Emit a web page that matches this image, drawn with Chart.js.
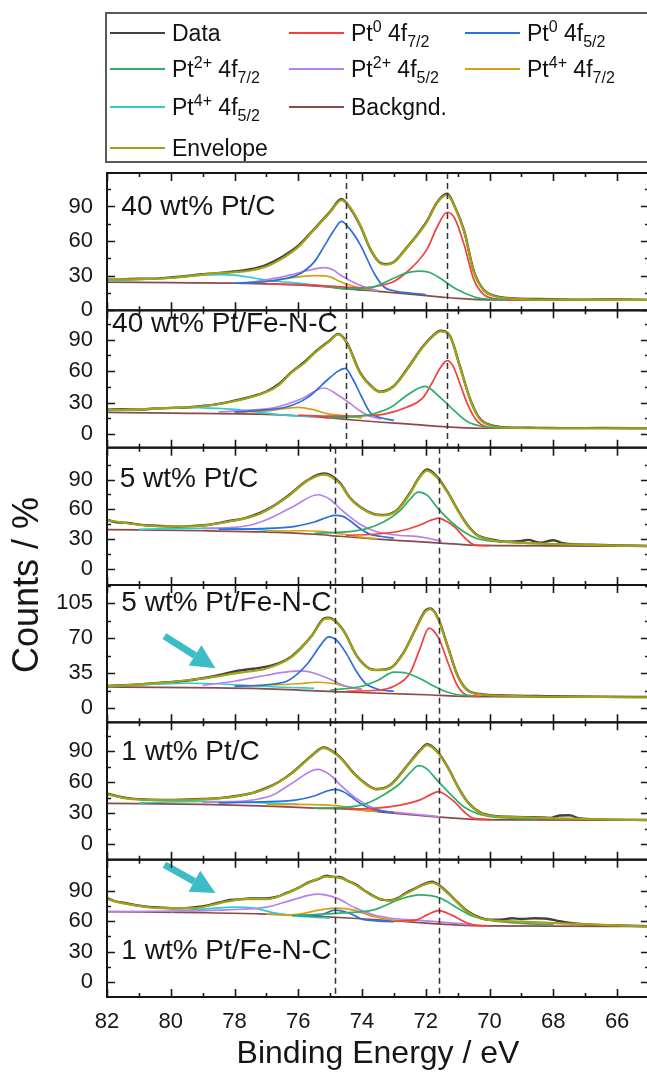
<!DOCTYPE html>
<html>
<head>
<meta charset="utf-8">
<title>Pt 4f XPS</title>
<script src="https://cdn.jsdelivr.net/npm/chart.js"></script>
<style>
  body { margin: 0; overflow: hidden; background: #fff; font-family: Arial, "Liberation Sans", sans-serif; }
  #wrap { position: relative; width: 647px; height: 1072px; overflow: hidden; }
  #legend { position: absolute; left: 105px; top: 12px; width: 580px; height: 151px; border: 2px solid #5a5a5a; box-sizing: border-box; }
  .item { position: absolute; height: 24px; display: flex; align-items: center; font-size: 23px; color: #111; white-space: nowrap; }
  .item i { display: inline-block; width: 55px; height: 2px; margin-right: 7px; }
  .item sup, .item sub { font-size: 16px; line-height: 0; }
  canvas { position: absolute; left: 0; top: 0; }
</style>
</head>
<body>
<div id="wrap">
  <canvas id="xps" width="652" height="1072"></canvas>
  <div id="legend"></div>
</div>

<script>
// binding energy axis
const xTicks = [82, 80, 78, 76, 74, 72, 70, 68, 66];

// one entry per panel, top to bottom
const panelNames = ['40 wt% Pt/C', '40 wt% Pt/Fe-N-C', '5 wt% Pt/C', '5 wt% Pt/Fe-N-C', '1 wt% Pt/C', '1 wt% Pt/Fe-N-C'];
const yTicks = [[0, 30, 60, 90], [0, 30, 60, 90], [0, 30, 60, 90], [0, 35, 70, 105], [0, 30, 60, 90], [0, 30, 60, 90]];
const yMin = [0, -13, -16, -14, -15, -15];
const yMax = [119, 118, 122, 123, 118, 121];

// series, legend order
const seriesNames = ['Data', 'Pt0 4f7/2', 'Pt0 4f5/2', 'Pt2+ 4f7/2', 'Pt2+ 4f5/2', 'Pt4+ 4f7/2', 'Pt4+ 4f5/2', 'Backgnd.', 'Envelope'];
const seriesHtml = ['Data', 'Pt<sup>0</sup> 4f<sub>7/2</sub>', 'Pt<sup>0</sup> 4f<sub>5/2</sub>', 'Pt<sup>2+</sup> 4f<sub>7/2</sub>',
  'Pt<sup>2+</sup> 4f<sub>5/2</sub>', 'Pt<sup>4+</sup> 4f<sub>7/2</sub>', 'Pt<sup>4+</sup> 4f<sub>5/2</sub>', 'Backgnd.', 'Envelope'];
const seriesColors = ['#404040', '#f2403f', '#2b6fd8', '#2fae6a', '#b880ea', '#d6a014', '#2dcdd3', '#8c4b4b', '#a2a215'];

// points are [binding energy, counts %]
// --- 40 wt% Pt/C
const p1_data = [[82,26.5],[81.5,26.8],[81,27.5],[80.5,27.4],[80,28.6],[79.5,29.8],[79,31.3],[78.5,32.2],[78,33.6],[77.5,35.6],[77,39.5],[76.5,46.5],[76,56],[75.5,70.5],[75,85.5],[74.65,96.5],[74.37,88.5],[74.06,73.5],[73.75,53.5],[73.45,41.5],[73.25,40],[73,42],[72.6,54.5],[72.3,64.5],[71.96,77.5],[71.65,93.5],[71.33,101],[71.1,90.5],[70.8,69],[70.5,34.5],[70.2,18.3],[69.8,12.4],[69.2,10.3],[68.5,9.8],[68,9.6],[67,9.3],[66,9.4],[65,9.1]];
const p1_pt0a = [[77,23],[76,22.3],[75,21],[74,19.5],[73.4,21.5],[73,25],[72.6,33],[72.3,41],[71.96,53],[71.65,72],[71.33,85],[71.1,80],[70.8,57],[70.5,27],[70.2,14],[69.8,10],[69.3,9.3],[68.5,9.1]];
const p1_pt0b = [[78,23.5],[77.5,24],[77,25],[76.5,27],[76,31],[75.5,42],[75.2,55],[74.9,68.5],[74.65,77],[74.4,71],[74.06,57],[73.6,31],[73.3,20],[73,17],[72.5,15],[72,13.5]];
const p1_pt2a = [[75,20],[74.5,18.8],[74,19],[73.6,20.5],[73.3,24],[73,28],[72.6,32.5],[72.24,34],[71.9,33],[71.56,28],[71.3,23],[71,17.8],[70.7,14],[70.4,11],[70,9.5],[69.5,9.1]];
const p1_pt2b = [[78,23.5],[77.5,24.5],[77,26.5],[76.5,29],[76.2,31],[75.7,34.5],[75.2,37],[74.9,35],[74.7,31],[74.4,26],[74,21],[73.5,17]];
const p1_pt4a = [[78,23.5],[77,25],[76.5,27],[76,29],[75.4,30],[75,29],[74.7,25],[74.4,22],[74,19],[73.5,17]];
const p1_pt4b = [[82,25.5],[81,26.5],[80,28],[79,30.5],[78.45,31],[78,30.5],[77.5,28.5],[77.2,27],[76.6,25],[76,23.5],[75.5,22],[75,20.5]];
const p1_bg = [[82,24.5],[80,24],[78,23.5],[77,23],[76,22],[75,20],[74.5,18.6],[73.5,16.5],[72.5,14],[71.5,11.5],[71,10.3],[70.5,9.5],[70,9.1],[65,9]];
const p1_env = [[82,26.5],[81,27],[80,28],[79.5,29.5],[79,31],[78.5,32.5],[78,33],[77.5,34.5],[77,38],[76.5,45],[76,55],[75.5,70],[75,85],[74.65,95.5],[74.37,89],[74.06,74],[73.75,54],[73.45,41],[73.25,39.5],[73,41.5],[72.6,54],[72.3,64],[71.96,77],[71.65,93],[71.33,100],[71.1,90],[70.8,68.5],[70.5,33.7],[70.2,17.8],[69.8,12],[69.2,10],[68,9.3],[65,9]];

// --- 40 wt% Pt/Fe-N-C
const p2_data = [[82,23.2],[81.5,23.6],[81,23.4],[80.5,24.3],[80,25],[79.5,25.3],[79,26.8],[78.5,28.8],[77.9,32.6],[77.5,35.5],[77,40.6],[76.6,48],[76.2,59.5],[75.8,69],[75.5,77.5],[75,89.5],[74.75,95.5],[74.48,87.5],[74.06,58.5],[73.64,43.8],[73.44,40.5],[73.02,45.3],[72.6,61.5],[72.08,84],[71.75,94.5],[71.55,98.5],[71.24,93.5],[70.93,64.5],[70.6,32.5],[70.3,14.5],[69.9,8],[69.46,6.3],[68.5,5.9],[67.5,5.6],[66.5,5.7],[65,5.5]];
const p2_pt0a = [[76,18],[75,17],[74.06,17.4],[73.3,19],[72.6,25.5],[72.08,35],[71.8,49],[71.55,63],[71.33,70],[71.15,65],[70.93,48],[70.7,29],[70.4,12.6],[70.1,6.8],[69.7,5.6]];
const p2_pt0b = [[78,21],[77.2,22.5],[76.35,26],[75.7,35],[75.1,51.3],[74.75,60],[74.53,62.6],[74.3,53],[74.06,38.4],[73.75,20.6],[73.44,15.8],[73,13]];
const p2_pt2a = [[75,15.5],[74.5,16],[74,17.5],[73.64,19.4],[73.1,25.5],[72.6,36.8],[72.03,45.5],[71.55,35],[71.1,22],[70.7,12],[70.3,7.7],[69.9,6],[69.5,5.6]];
const p2_pt2b = [[78.5,21],[77.4,23],[76.7,25.5],[75.9,33.6],[75.2,43.9],[74.7,36],[74.37,29],[74.06,22],[73.75,17],[73.4,14.5]];
const p2_pt4a = [[78,21],[77,22],[76.5,24],[76,25.5],[75.5,23],[75.1,19.5],[74.6,17.5],[74,15.5]];
const p2_pt4b = [[82,22],[81,23.5],[80,25],[79.5,25.5],[79,25],[78,23.5],[77.2,20.6],[76.2,17.5],[75.5,16.5]];
const p2_bg = [[82,20.6],[80,20],[77.2,19],[75.5,16.5],[74.5,14],[73.5,11.5],[72.5,9.5],[71.33,6.8],[70.5,5.7],[70,5.5],[65,5.5]];
const p2_env = [[82,23],[81,23.5],[80.3,24.5],[79,26.5],[77.9,32],[77,40],[76.6,47],[76.2,59],[75.8,68],[75.5,77],[75,89],[74.75,95],[74.48,87],[74.06,58],[73.64,43.3],[73.44,40],[73.02,45],[72.6,61],[72.08,83.5],[71.75,94],[71.55,98],[71.24,93],[70.93,64],[70.6,32],[70.3,14],[69.9,7.7],[69.46,6],[68,5.5],[65,5.5]];

// --- 5 wt% Pt/C
const p3_data = [[82,49.5],[81.7,47],[81.4,46.5],[80.8,44],[80.3,43.3],[79.8,42.6],[79.3,43.4],[78.8,44.6],[78.25,47.8],[77.7,51],[77.2,56.5],[76.8,63],[76.35,73],[75.7,89.5],[75.2,96],[74.7,87],[74.4,72.5],[74.06,62.5],[73.64,55.5],[73.33,54.5],[72.9,59.5],[72.5,76.5],[72.2,92.5],[71.96,100],[71.65,93],[71.3,76.5],[71,59.5],[70.7,44.5],[70.4,34.5],[69.9,29.5],[69.47,27.5],[69,28.2],[68.8,29.3],[68.4,26.5],[68,29],[67.7,26],[67.4,25],[66.5,24.2],[66,23.8],[65,23.2]];
const p3_pt0a = [[74.5,34],[73.64,35],[72.8,38.3],[72.2,44],[71.85,49],[71.6,51.3],[71.35,48],[71.1,42.3],[70.7,29],[70.45,24],[70,23.5]];
const p3_pt0b = [[78.5,40],[77.2,40.7],[76.1,43],[75.5,47.3],[75.1,52],[74.85,54],[74.6,53],[74.4,49],[74.06,40.7],[73.75,35],[73.44,33],[73,31]];
const p3_pt2a = [[75.5,36],[74.5,37.3],[73.85,40.7],[73.33,47.3],[72.8,59],[72.5,70],[72.24,77.3],[71.95,74],[71.65,62],[71.2,47.3],[70.8,37.3],[70.4,30.7],[69.9,28],[68.9,26],[68,25]];
const p3_pt2b = [[79,41],[78,42],[77.4,45],[76.8,52.3],[76.1,64],[75.4,74.7],[75,70],[74.7,61],[74.4,53],[74.06,45],[73.64,38.5],[73,34.5],[72.1,32],[71.5,28]];
const p3_pt4a = [[77,38],[76,38.5],[75.3,38],[74.7,35.5],[74,32],[73.5,30.5]];
const p3_pt4b = [[81,40],[80.3,40.5],[79,41],[78,40.5],[77.2,39.5],[76.5,37.8]];
const p3_bg = [[82,39.7],[79,38.5],[77.2,37.3],[75.5,35],[74.7,33],[73.5,30],[72.5,28],[71.65,26.3],[71,25],[70.5,24],[69.5,23.5],[65,23]];
const p3_env = [[82,49],[81.4,46.3],[80.3,43],[79.3,43],[78.25,47.3],[77.2,55.7],[76.35,72.3],[75.7,89],[75.2,95],[74.7,86],[74.4,72],[74.06,62],[73.64,55],[73.33,54],[72.9,59],[72.5,75.7],[72.2,92],[71.96,99],[71.65,92],[71.3,76],[71,59],[70.7,44],[70.4,34],[69.9,29],[69.47,27.3],[68.4,25.7],[67.4,24.7],[66,23.5],[65,23]];

// --- 5 wt% Pt/Fe-N-C
const p4_data = [[82,22.3],[81,23.8],[80.3,25.5],[79.5,27.5],[79,30],[78.5,33],[77.9,37.5],[77.4,39.5],[77,41.5],[76.6,45],[76.2,52],[75.6,71.5],[75.2,89.5],[75.05,90.5],[74.6,78.5],[74.15,51.5],[73.8,40.3],[73.5,38.3],[73.1,40.3],[72.7,55.5],[72.3,80.5],[72,98],[71.85,99.5],[71.6,88.5],[71.3,60.5],[71,32.5],[70.7,18.3],[70.3,14.3],[69.5,12.8],[68.5,12.3],[67.5,11.8],[66.5,11.5],[65,11.2]];
const p4_pt0a = [[74.5,17],[73.5,18],[73,22],[72.5,35],[72.2,58],[71.9,80],[71.6,70],[71.3,45],[71,22],[70.7,13],[70.3,12]];
const p4_pt0b = [[78,22],[77,23.5],[76.3,28],[75.7,45],[75.3,63],[75.05,71.3],[74.8,68],[74.5,55],[74.2,38],[73.9,25],[73.5,19],[73,17]];
const p4_pt2a = [[75,18],[74,22],[73.5,28],[73,36],[72.6,35],[72.2,30],[71.8,23],[71.4,17],[71,13.5],[70.5,12.5]];
const p4_pt2b = [[79,23],[78,27],[77,33],[76.3,36.5],[75.9,37.3],[75.5,35],[75,29],[74.5,22],[74,19]];
const p4_pt4a = [[78,22],[77,23],[76,24.5],[75.4,26],[75,25],[74.5,22],[74,18.5]];
const p4_pt4b = [[82,22],[80.5,24],[79.5,25],[78.5,24.5],[77.5,22.5],[76.5,21],[75.5,20]];
const p4_bg = [[82,21.3],[77.2,19.7],[74.6,16.3],[73,14.5],[72,13.5],[71,12],[70,11.5],[65,11]];
const p4_env = [[82,22],[80.3,25.3],[79,29.7],[77.9,35.3],[77,39.7],[76.2,51.3],[75.6,71.3],[75.2,88.7],[75.05,89.7],[74.6,78],[74.15,51.3],[73.8,40],[73.5,38],[73.1,40],[72.7,55],[72.3,80],[72,97],[71.85,99],[71.6,88],[71.3,60],[71,32],[70.7,18],[70.3,14],[69.5,12.5],[65,11]];

// --- 1 wt% Pt/C
const p5_data = [[82,48.8],[81.4,44.8],[80.8,43.2],[80.3,42.9],[79.6,43.1],[79,43.7],[78.4,44.8],[77.9,46.9],[77.4,50],[77,54.5],[76.6,60.5],[76.2,69],[75.6,85.3],[75.2,93.6],[74.7,84.5],[74.27,69],[73.85,57.8],[73.54,53.4],[73.1,57.8],[72.6,75.5],[72.2,90.3],[71.96,96.8],[71.65,90.2],[71.3,74],[71,56],[70.7,41.4],[70.3,30.8],[69.9,27.6],[69.2,26.4],[68.6,26.1],[68.1,25.4],[67.8,27.8],[67.5,28],[67.2,25.2],[66.5,24],[65,23.4]];
const p5_pt0a = [[74.5,34],[73.64,34.6],[72.8,37.9],[72.2,42.7],[71.85,48],[71.6,50.8],[71.35,47],[71.1,41],[70.8,31.4],[70.5,25],[70,24]];
const p5_pt0b = [[78.5,40],[77.2,41],[76.1,42.7],[75.5,46.6],[75.1,51.5],[74.85,53],[74.6,51],[74.37,46.6],[74.06,39.5],[73.75,34.6],[73.44,32.4],[73,30.5]];
const p5_pt2a = [[75.5,35],[74.5,35.6],[73.85,39.5],[73.33,47.6],[72.8,59],[72.5,69],[72.22,76],[71.95,72.5],[71.65,62],[71.2,47.6],[70.8,36],[70.4,29.8],[69.9,26.5],[69.2,25],[68.5,24.5]];
const p5_pt2b = [[79,40.5],[78.3,41],[77.6,42],[76.8,47.6],[76.2,59],[75.4,72.5],[75,67],[74.7,58],[74.27,46.5],[73.85,37.9],[73.44,33],[72.6,29.8],[71.55,26.5]];
const p5_pt4a = [[77,38],[76,38.5],[75.2,38],[74.6,36.5],[74,33],[73.5,31.5]];
const p5_pt4b = [[81,40],[80,41],[79,41.5],[78,41],[77,40],[76,38.5]];
const p5_bg = [[82,39.5],[79,38.5],[77.2,37],[75.5,35],[74.3,33.7],[73,30],[72.3,28],[71.65,26.5],[71,25],[70.5,24],[69.5,23.5],[65,23.3]];
const p5_env = [[82,48.5],[81.4,44.3],[80.3,42.7],[79,43.4],[77.9,46.6],[77,54],[76.2,68.6],[75.6,84.8],[75.2,93],[74.7,84],[74.27,68.6],[73.85,57.3],[73.54,53],[73.1,57.3],[72.6,75],[72.2,89.6],[71.96,96],[71.65,89.6],[71.3,73.5],[71,55.6],[70.7,41],[70.3,30.4],[69.9,27.2],[68.9,26],[67.9,25],[65,23.3]];

// --- 1 wt% Pt/Fe-N-C
const p6_data = [[82,83],[81.7,79.5],[81.4,77.8],[80.9,75],[80.3,73.5],[79.8,72.8],[79.3,73.8],[78.8,76],[78.25,80.5],[77.9,81.5],[77.5,82.5],[77,82.6],[76.7,84],[76.35,88.3],[76,93],[75.7,98.3],[75.4,101.5],[75.1,105],[74.9,104],[74.7,103.8],[74.45,100],[74.2,96.5],[73.9,90],[73.64,85],[73.4,81.5],[73.1,80.8],[72.85,83.5],[72.6,88.5],[72.3,93],[72.08,96.5],[71.8,99.3],[71.55,95],[71.3,88],[71.1,81.8],[70.7,70.2],[70.3,63.6],[70,61.5],[69.6,61.8],[69.3,63],[69,62.2],[68.6,63],[68.2,62.5],[67.8,60],[67.4,58],[66.8,56.5],[66,55.8],[65,55]];
const p6_pt0a = [[73,60],[72.3,61.4],[71.96,66.3],[71.6,70.6],[71.2,66.3],[70.8,59.7],[70.5,56.4],[70,55.5]];
const p6_pt0b = [[76,65.5],[75.3,66.3],[74.85,71],[74.4,68],[74,62],[73.64,60.7],[73,59.5]];
const p6_pt2a = [[76.2,65.5],[74.7,68],[73.64,71.3],[72.8,81.9],[72.2,86.1],[71.55,82.9],[71,73],[70.5,64.7],[69.9,60.7],[69,58],[68,56.5]];
const p6_pt2b = [[82,69.6],[80,70],[78.25,71.3],[77,74],[76.2,81],[75.4,86.8],[74.8,82.9],[74.2,73],[73.64,66.3],[73.1,63],[72.08,60.7],[70.5,56.4]];
const p6_pt4a = [[77,67],[76.2,66.3],[75.3,71.3],[74.8,73],[74.3,71.3],[73.64,64.7],[73.1,61.4],[72.5,60]];
const p6_pt4b = [[80,69.6],[79,72],[77.9,74],[77.4,73],[76.7,68],[75.9,64.7],[75,63]];
const p6_bg = [[82,69.6],[79,68.5],[77.2,67.3],[75.5,65],[74.3,63],[73,60.5],[71.65,57.4],[70.1,55.4],[65,54.8]];
const p6_env = [[82,81.9],[81.4,77.2],[80.3,73],[79.3,73],[78.25,79.5],[77.7,81.9],[77,81.9],[76.35,87.8],[75.7,97.7],[75.1,104.3],[74.7,103],[74.2,96],[73.64,84.5],[73.1,80.5],[72.6,87.8],[72.08,96],[71.8,98.3],[71.55,94.4],[71.1,81.2],[70.7,69.6],[70.3,63],[69.8,60.7],[69,59.7],[67.4,57.4],[65,54.8]];

const panels = [
  [p1_data, p1_pt0a, p1_pt0b, p1_pt2a, p1_pt2b, p1_pt4a, p1_pt4b, p1_bg, p1_env],
  [p2_data, p2_pt0a, p2_pt0b, p2_pt2a, p2_pt2b, p2_pt4a, p2_pt4b, p2_bg, p2_env],
  [p3_data, p3_pt0a, p3_pt0b, p3_pt2a, p3_pt2b, p3_pt4a, p3_pt4b, p3_bg, p3_env],
  [p4_data, p4_pt0a, p4_pt0b, p4_pt2a, p4_pt2b, p4_pt4a, p4_pt4b, p4_bg, p4_env],
  [p5_data, p5_pt0a, p5_pt0b, p5_pt2a, p5_pt2b, p5_pt4a, p5_pt4b, p5_bg, p5_env],
  [p6_data, p6_pt0a, p6_pt0b, p6_pt2a, p6_pt2b, p6_pt4a, p6_pt4b, p6_bg, p6_env]
];

// dashed guide lines (eV) and the panels they run through
const guides = [
  { from: 0, to: 1, at: [74.5, 71.33] },
  { from: 2, to: 5, at: [74.85, 71.6] }
];
// label anchors [eV, counts] and arrows [[eV, counts] tail, head] per panel
const labelAt = [[81.55, 89], [81.84, 104.5], [81.6, 90], [81.55, 105], [81.55, 89], [81.55, 30]];
const arrows = [{ panel: 3, from: [80.2, 72], to: [78.6, 40] }, { panel: 5, from: [80.2, 116], to: [78.6, 88] }];

// ---------- legend (html, so sub/superscripts stay text)
const legendCols = [3, 182, 358];
const legendRows = [20, 56, 94, 135];
const legendCell = [[0, 0], [1, 0], [2, 0], [0, 1], [1, 1], [2, 1], [0, 2], [1, 2], [0, 3]];
const legendEl = document.getElementById('legend');
seriesHtml.forEach((html, i) => {
  const [c, r] = legendCell[i];
  const d = document.createElement('div');
  d.className = 'item';
  d.style.left = legendCols[c] + 'px';
  d.style.top = (legendRows[r] - 13) + 'px';
  d.innerHTML = '<i style="background:' + seriesColors[i] + '"></i><span>' + html + '</span>';
  legendEl.appendChild(d);
});

// ---------- chart
const font = 'Arial, "Liberation Sans", sans-serif';
const ink = '#161616';
const drawOrder = [9, 3, 4, 2, 5, 6, 7, 8, 0];   // lower = drawn on top
const panelIds = panelNames.map((_, k) => 'y' + (k + 1));

const datasets = [];
panels.forEach((series, k) => {
  series.forEach((pts, i) => {
    datasets.push({
      label: seriesNames[i],
      yAxisID: panelIds[k],
      data: pts.map(p => ({ x: p[0], y: p[1] })),
      borderColor: seriesColors[i],
      borderWidth: i === 0 ? 2.4 : (i === 8 ? 2.2 : 1.7),
      pointRadius: 0,
      cubicInterpolationMode: 'monotone',
      order: drawOrder[i]
    });
  });
});

const scales = {
  x: {
    type: 'linear', reverse: true, min: 65, max: 82,
    grid: { display: false, drawTicks: false }, border: { display: false },
    ticks: { font: { family: font, size: 22 }, color: ink, padding: 12, autoSkip: false, maxRotation: 0 },
    afterBuildTicks: s => { s.ticks = xTicks.map(v => ({ value: v })); },
    afterFit: s => { s.height = 75; },
    title: { display: true, text: 'Binding Energy / eV', font: { family: font, size: 32, lineHeight: 1 }, color: ink, padding: { top: 0, bottom: 2 } }
  }
};
// bottom panel first: later stacked axes are placed above earlier ones
for (let k = panelIds.length - 1; k >= 0; k--) {
  scales[panelIds[k]] = {
    type: 'linear', position: 'left', stack: 'panels', stackWeight: 1,
    min: yMin[k], max: yMax[k],
    grid: { display: false, drawTicks: false }, border: { display: false },
    ticks: { font: { family: font, size: 22 }, color: ink, padding: 14, autoSkip: false },
    afterBuildTicks: s => { s.ticks = yTicks[k].map(v => ({ value: v })); },
    afterFit: s => { s.width = 107; }
  };
}

const framePlugin = {
  id: 'frames',
  afterDatasetsDraw(chart) {
    const { ctx, chartArea: ca, scales: sc } = chart;
    const xs = sc.x;
    ctx.save();

    // dashed guides
    ctx.strokeStyle = '#333';
    ctx.lineWidth = 1.5;
    ctx.setLineDash([6, 4]);
    guides.forEach(g => {
      const top = sc[panelIds[g.from]].top, bot = sc[panelIds[g.to]].bottom;
      g.at.forEach(e => {
        const x = Math.round(xs.getPixelForValue(e)) + 0.5;
        ctx.beginPath(); ctx.moveTo(x, top); ctx.lineTo(x, bot); ctx.stroke();
      });
    });
    ctx.setLineDash([]);

    // arrows
    ctx.strokeStyle = ctx.fillStyle = '#3bbcc6';
    arrows.forEach(a => {
      const ys = sc[panelIds[a.panel]];
      const x0 = xs.getPixelForValue(a.from[0]), y0 = ys.getPixelForValue(a.from[1]);
      const x1 = xs.getPixelForValue(a.to[0]), y1 = ys.getPixelForValue(a.to[1]);
      const ang = Math.atan2(y1 - y0, x1 - x0), hl = 24, hw = 12;
      const bx = x1 - hl * Math.cos(ang), by = y1 - hl * Math.sin(ang);
      ctx.lineWidth = 7;
      ctx.beginPath(); ctx.moveTo(x0, y0); ctx.lineTo(bx, by); ctx.stroke();
      ctx.beginPath();
      ctx.moveTo(x1, y1);
      ctx.lineTo(bx + hw * Math.sin(ang), by - hw * Math.cos(ang));
      ctx.lineTo(bx - hw * Math.sin(ang), by + hw * Math.cos(ang));
      ctx.closePath(); ctx.fill();
    });

    // frames and inward ticks
    ctx.strokeStyle = ink;
    panelIds.forEach((id, k) => {
      const ys = sc[id];
      ctx.lineWidth = 2;
      ctx.strokeRect(ca.left, ys.top, ca.right - ca.left, ys.bottom - ys.top);
      ctx.lineWidth = 1.6;
      ctx.beginPath();
      xs.ticks.forEach(t => {
        [[t.value, 8], [t.value - 1, 4]].forEach(([v, len]) => {
          if (v < xs.min || v > xs.max) return;
          const x = Math.round(xs.getPixelForValue(v)) + 0.5;
          ctx.moveTo(x, ys.top); ctx.lineTo(x, ys.top + len);
          ctx.moveTo(x, ys.bottom); ctx.lineTo(x, ys.bottom - len);
        });
      });
      const step = yTicks[k][1] - yTicks[k][0];
      ys.ticks.forEach(t => {
        [[t.value, 8], [t.value + step / 2, 4]].forEach(([v, len]) => {
          if (v < ys.min || v > ys.max) return;
          const y = Math.round(ys.getPixelForValue(v)) + 0.5;
          ctx.moveTo(ca.left, y); ctx.lineTo(ca.left + len, y);
          ctx.moveTo(ca.right, y); ctx.lineTo(ca.right - len, y);
        });
      });
      ctx.stroke();

      // panel name
      ctx.fillStyle = ink;
      ctx.font = '28px ' + font;
      ctx.textAlign = 'left';
      ctx.textBaseline = 'middle';
      ctx.fillText(panelNames[k], xs.getPixelForValue(labelAt[k][0]), ys.getPixelForValue(labelAt[k][1]));
    });

    // shared y title
    const yc = (sc[panelIds[0]].top + sc[panelIds[panelIds.length - 1]].bottom) / 2;
    ctx.translate(28, yc);
    ctx.rotate(-Math.PI / 2);
    ctx.textAlign = 'center';
    ctx.font = '36px ' + font;
    ctx.fillText('Counts / %', 0, 0);
    ctx.restore();
  }
};

new Chart(document.getElementById('xps'), {
  type: 'line',
  data: { datasets },
  options: {
    responsive: false,
    animation: false,
    devicePixelRatio: 1,
    layout: { padding: { top: 173, right: 3, bottom: 0, left: 0 } },
    plugins: { legend: { display: false }, tooltip: { enabled: false } },
    scales
  },
  plugins: [framePlugin]
});
</script>
</body>
</html>
